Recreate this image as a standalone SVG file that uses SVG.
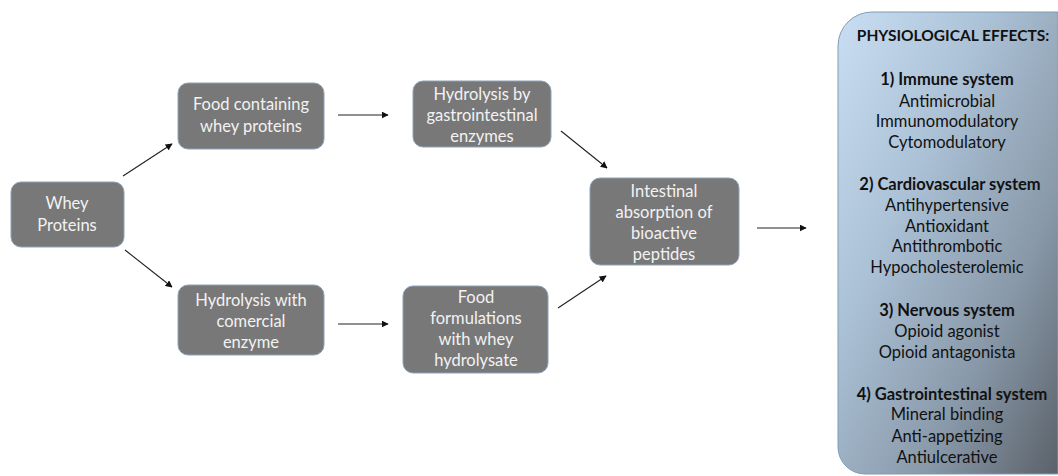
<svg xmlns="http://www.w3.org/2000/svg" width="1058" height="476" viewBox="0 0 1058 476">
<style>
.box{fill:#787878;stroke:#8ea3b7;stroke-width:1}
.bt{font-family:Lato,"Liberation Sans",sans-serif;font-size:16.5px;fill:#f2f2f2;text-anchor:middle}
.pt{font-family:Lato,"Liberation Sans",sans-serif;font-size:16.5px;fill:#111;text-anchor:middle}
.ph{font-weight:bold}
.arr{stroke:#222;stroke-width:1.1;fill:none;marker-end:url(#ah)}
</style>
<defs>
<marker id="ah" viewBox="0 0 10 10" refX="9" refY="5" markerWidth="7" markerHeight="7" markerUnits="userSpaceOnUse" orient="auto">
<path d="M0,0 L10,5 L0,10 Z" fill="#111"/>
</marker>
<linearGradient id="pg" x1="0" y1="0" x2="1" y2="1">
<stop offset="0" stop-color="#c9def2"/>
<stop offset="0.35" stop-color="#abc1d6"/>
<stop offset="0.7" stop-color="#8898a8"/>
<stop offset="1" stop-color="#5a6169"/>
</linearGradient>
</defs>
<rect width="1058" height="476" fill="#ffffff"/>
<g id="connectors">
<line class="arr" x1="123" y1="176" x2="172" y2="144"/>
<line class="arr" x1="125" y1="250" x2="172" y2="287"/>
<line class="arr" x1="338" y1="115" x2="388" y2="115"/>
<line class="arr" x1="338" y1="324" x2="388" y2="324"/>
<line class="arr" x1="561" y1="131" x2="607" y2="168"/>
<line class="arr" x1="558" y1="308" x2="606" y2="276"/>
<line class="arr" x1="757" y1="228" x2="806" y2="228"/>
</g>
<g id="whey">
<rect class="box" x="11" y="182" width="113" height="65" rx="10"/>
<text class="bt" x="67" y="209">Whey</text>
<text class="bt" x="67" y="231">Proteins</text>
</g>
<g id="food-containing">
<rect class="box" x="178" y="83" width="146" height="66" rx="10"/>
<text class="bt" x="251" y="110">Food containing</text>
<text class="bt" x="251" y="132">whey proteins</text>
</g>
<g id="hydrolysis-gi">
<rect class="box" x="413" y="81" width="138" height="66" rx="10"/>
<text class="bt" x="482" y="100">Hydrolysis by</text>
<text class="bt" x="482" y="121">gastrointestinal</text>
<text class="bt" x="482" y="142">enzymes</text>
</g>
<g id="hydrolysis-commercial">
<rect class="box" x="178" y="285" width="146" height="70" rx="10"/>
<text class="bt" x="251" y="306">Hydrolysis with</text>
<text class="bt" x="251" y="327">comercial</text>
<text class="bt" x="251" y="348">enzyme</text>
</g>
<g id="food-formulations">
<rect class="box" x="403" y="286" width="145" height="87" rx="10"/>
<text class="bt" x="476" y="303">Food</text>
<text class="bt" x="476" y="324">formulations</text>
<text class="bt" x="476" y="345">with whey</text>
<text class="bt" x="476" y="366">hydrolysate</text>
</g>
<g id="intestinal">
<rect class="box" x="590" y="178" width="149" height="87" rx="10"/>
<text class="bt" x="664" y="197">Intestinal</text>
<text class="bt" x="664" y="218">absorption of</text>
<text class="bt" x="664" y="239">bioactive</text>
<text class="bt" x="664" y="260">peptides</text>
</g>
<g id="effects">
<path d="M1058,12 H872 A34,34 0 0 0 838,46 V447 A27,27 0 0 0 865,474 H1058 Z" fill="url(#pg)" stroke="#7f9cba" stroke-width="1"/>
<text class="pt ph" x="953" y="41" style="font-size:15.5px">PHYSIOLOGICAL EFFECTS:</text>
<text class="pt ph" x="947" y="85">1) Immune system</text>
<text class="pt" x="947" y="107">Antimicrobial</text>
<text class="pt" x="947" y="127">Immunomodulatory</text>
<text class="pt" x="947" y="148">Cytomodulatory</text>
<text class="pt ph" x="950" y="190">2) Cardiovascular system</text>
<text class="pt" x="947" y="211">Antihypertensive</text>
<text class="pt" x="947" y="232">Antioxidant</text>
<text class="pt" x="947" y="252">Antithrombotic</text>
<text class="pt" x="947" y="273">Hypocholesterolemic</text>
<text class="pt ph" x="947" y="316">3) Nervous system</text>
<text class="pt" x="947" y="337">Opioid agonist</text>
<text class="pt" x="947" y="358">Opioid antagonista</text>
<text class="pt ph" x="952" y="400">4) Gastrointestinal system</text>
<text class="pt" x="947" y="420">Mineral binding</text>
<text class="pt" x="947" y="442">Anti-appetizing</text>
<text class="pt" x="947" y="463">Antiulcerative</text>
</g>
</svg>
